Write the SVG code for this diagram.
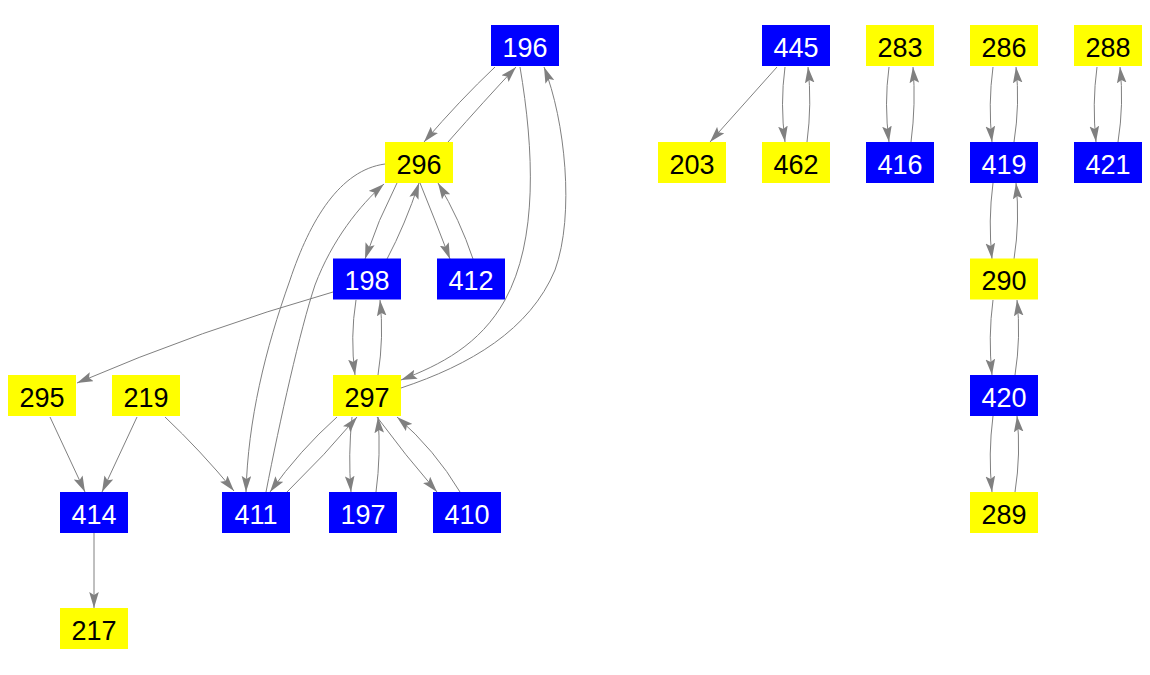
<svg xmlns="http://www.w3.org/2000/svg" width="1150" height="675" viewBox="0 0 1150 675">
<style>
.e{fill:none;stroke:#808080;stroke-width:1;marker-end:url(#ah)}
.b rect{fill:#0000ff}
.y rect{fill:#ffff00}
text{font-family:"Liberation Sans",Arial,sans-serif;font-size:27px;text-anchor:middle}
.b text{fill:#ffffff}
.y text{fill:#000000}
</style>
<defs>
<marker id="ah" markerUnits="userSpaceOnUse" markerWidth="16" markerHeight="10" viewBox="0 0 16 10" refX="16" refY="5" orient="auto">
<path d="M0,0.2 L16,5 L0,9.8 L3,5 z" fill="#808080"/>
</marker>
</defs>
<rect width="1150" height="675" fill="#ffffff"/>
<g id="edges">
<path class="e" d="M495,67 Q460,100 424,142"/>
<path class="e" d="M448,142 Q485,100 516,67"/>
<path class="e" d="M520,67 C534,150 538,240 505,300 C480,345 440,365 401,380"/>
<path class="e" d="M401,388 C470,365 530,330 555,270 C575,215 565,120 544,67"/>
<path class="e" d="M397,183 Q378,220 365,259"/>
<path class="e" d="M387,259 Q405,225 419,183"/>
<path class="e" d="M420,183 Q435,220 450,259"/>
<path class="e" d="M473,259 Q460,220 438,183"/>
<path class="e" d="M385,164 C340,170 310,220 290,280 C265,350 248,420 246,492"/>
<path class="e" d="M266,492 C280,420 300,330 315,285 C332,240 360,205 384,184"/>
<path class="e" d="M356,300 Q350,337 355,375"/>
<path class="e" d="M378,375 Q384,337 380,300"/>
<path class="e" d="M352,417 Q348,455 351,492"/>
<path class="e" d="M376,492 Q381,455 378,417"/>
<path class="e" d="M377,417 Q405,455 437,492"/>
<path class="e" d="M460,492 Q435,450 397,417"/>
<path class="e" d="M337,417 Q300,450 270,492"/>
<path class="e" d="M287,492 Q325,455 357,417"/>
<path class="e" d="M333,292 Q200,330 77,383"/>
<path class="e" d="M50,417 L85,492"/>
<path class="e" d="M137,417 L102,492"/>
<path class="e" d="M165,417 Q200,450 234,491"/>
<path class="e" d="M94,533 L94,608"/>
<path class="e" d="M777,67 L710,142"/>
<path class="e" d="M785,67 Q780,104 785,142"/>
<path class="e" d="M807,142 Q812,104 808,67"/>
<path class="e" d="M889,67 Q884,104 889,142"/>
<path class="e" d="M911,142 Q916,104 913,67"/>
<path class="e" d="M993,67 Q988,104 992,142"/>
<path class="e" d="M1014,142 Q1020,104 1016,67"/>
<path class="e" d="M1097,67 Q1092,104 1096,142"/>
<path class="e" d="M1118,142 Q1124,104 1120,67"/>
<path class="e" d="M993,183 Q988,221 992,259"/>
<path class="e" d="M1014,259 Q1020,221 1016,183"/>
<path class="e" d="M993,300 Q988,337 992,375"/>
<path class="e" d="M1015,375 Q1021,337 1017,300"/>
<path class="e" d="M993,416 Q988,454 992,492"/>
<path class="e" d="M1015,492 Q1021,454 1017,416"/>
</g>
<g id="n196" class="b"><rect x="491" y="25" width="68" height="41"/><text x="525" y="56.5">196</text></g>
<g id="n296" class="y"><rect x="385" y="142" width="68" height="41"/><text x="419" y="173.5">296</text></g>
<g id="n198" class="b"><rect x="333" y="258.5" width="68" height="41"/><text x="367" y="290">198</text></g>
<g id="n412" class="b"><rect x="437" y="258.5" width="68" height="41"/><text x="471" y="290">412</text></g>
<g id="n295" class="y"><rect x="8" y="375" width="68" height="41"/><text x="42" y="406.5">295</text></g>
<g id="n219" class="y"><rect x="112" y="375" width="68" height="41"/><text x="146" y="406.5">219</text></g>
<g id="n297" class="y"><rect x="333" y="375" width="68" height="41"/><text x="367" y="406.5">297</text></g>
<g id="n414" class="b"><rect x="60" y="492" width="68" height="41"/><text x="94" y="523.5">414</text></g>
<g id="n411" class="b"><rect x="222" y="492" width="68" height="41"/><text x="256" y="523.5">411</text></g>
<g id="n197" class="b"><rect x="329" y="492" width="68" height="41"/><text x="363" y="523.5">197</text></g>
<g id="n410" class="b"><rect x="433" y="492" width="68" height="41"/><text x="467" y="523.5">410</text></g>
<g id="n217" class="y"><rect x="60" y="608" width="68" height="41"/><text x="94" y="639.5">217</text></g>
<g id="n445" class="b"><rect x="762" y="25" width="68" height="41"/><text x="796" y="56.5">445</text></g>
<g id="n203" class="y"><rect x="658" y="142" width="68" height="41"/><text x="692" y="173.5">203</text></g>
<g id="n462" class="y"><rect x="762" y="142" width="68" height="41"/><text x="796" y="173.5">462</text></g>
<g id="n283" class="y"><rect x="866" y="25" width="68" height="41"/><text x="900" y="56.5">283</text></g>
<g id="n416" class="b"><rect x="866" y="142" width="68" height="41"/><text x="900" y="173.5">416</text></g>
<g id="n286" class="y"><rect x="970" y="25" width="68" height="41"/><text x="1004" y="56.5">286</text></g>
<g id="n419" class="b"><rect x="970" y="142" width="68" height="41"/><text x="1004" y="173.5">419</text></g>
<g id="n288" class="y"><rect x="1074" y="25" width="68" height="41"/><text x="1108" y="56.5">288</text></g>
<g id="n421" class="b"><rect x="1074" y="142" width="68" height="41"/><text x="1108" y="173.5">421</text></g>
<g id="n290" class="y"><rect x="970" y="258.5" width="68" height="41"/><text x="1004" y="290">290</text></g>
<g id="n420" class="b"><rect x="970" y="375" width="68" height="41"/><text x="1004" y="406.5">420</text></g>
<g id="n289" class="y"><rect x="970" y="492" width="68" height="41"/><text x="1004" y="523.5">289</text></g>
</svg>
